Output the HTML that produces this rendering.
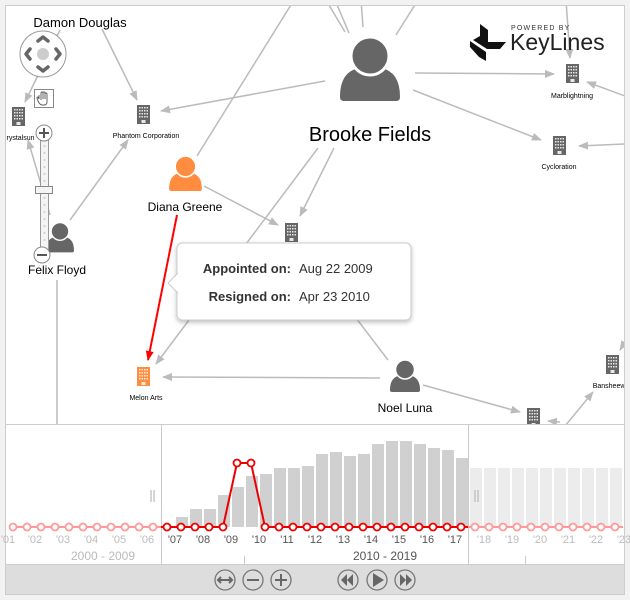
<!DOCTYPE html>
<html><head><meta charset="utf-8"><style>
html,body{margin:0;padding:0;background:#f2f2f2;}
svg{display:block;font-family:"Liberation Sans",sans-serif;}
</style></head><body>
<svg width="630" height="600" viewBox="0 0 630 600" xmlns="http://www.w3.org/2000/svg">
<defs>
<marker id="ah" viewBox="0 0 10 10" refX="9" refY="5" markerWidth="10" markerHeight="10" markerUnits="userSpaceOnUse" orient="auto"><path d="M0,1 L10,5 L0,9 Z" fill="#bbb"/></marker>
<marker id="ahr" viewBox="0 0 10 10" refX="9" refY="5" markerWidth="10" markerHeight="10" markerUnits="userSpaceOnUse" orient="auto"><path d="M0,1 L10,5 L0,9 Z" fill="#f00"/></marker>
<symbol id="person" viewBox="0 0 60 66" overflow="visible">
<path d="M0,62 Q0,36 20,33 L40,33 Q60,36 60,62 Q60,66 56,66 L4,66 Q0,66 0,62 Z"/>
<circle cx="30" cy="21" r="19" stroke="#fff" stroke-width="3"/>
</symbol>
<g id="bld">
<rect x="0" y="0" width="13" height="19"/>
<g fill="#fff" opacity="0.85">
<rect x="2" y="2" width="1.5" height="1.5"/><rect x="4.5" y="2" width="1.5" height="1.5"/><rect x="7" y="2" width="1.5" height="1.5"/><rect x="9.5" y="2" width="1.5" height="1.5"/>
<rect x="2" y="5" width="1.5" height="1.5"/><rect x="4.5" y="5" width="1.5" height="1.5"/><rect x="7" y="5" width="1.5" height="1.5"/><rect x="9.5" y="5" width="1.5" height="1.5"/>
<rect x="2" y="8" width="1.5" height="1.5"/><rect x="4.5" y="8" width="1.5" height="1.5"/><rect x="7" y="8" width="1.5" height="1.5"/><rect x="9.5" y="8" width="1.5" height="1.5"/>
<rect x="2" y="11" width="1.5" height="1.5"/><rect x="4.5" y="11" width="1.5" height="1.5"/><rect x="7" y="11" width="1.5" height="1.5"/><rect x="9.5" y="11" width="1.5" height="1.5"/>
<rect x="4.5" y="15" width="4" height="3"/>
</g>
</g>
<filter id="sh" x="-10%" y="-10%" width="120%" height="130%"><feDropShadow dx="0" dy="2" stdDeviation="2.5" flood-color="#000" flood-opacity="0.25"/></filter>
<clipPath id="cl"><rect x="6" y="6" width="618" height="418"/></clipPath>
</defs>
<rect x="5.5" y="5.5" width="619" height="589" fill="#fff" stroke="#ccc"/>
<g clip-path="url(#cl)">
<g stroke="#bbb" stroke-width="1.5" fill="none">
<line x1="415" y1="73" x2="554" y2="74" marker-end="url(#ah)"/>
<line x1="413" y1="90" x2="541" y2="140" marker-end="url(#ah)"/>
<line x1="325" y1="81" x2="161" y2="111" marker-end="url(#ah)"/>
<line x1="334" y1="148" x2="300" y2="216" marker-end="url(#ah)"/>
<line x1="318" y1="148" x2="156" y2="364" marker-end="url(#ah)"/>
<line x1="204" y1="186" x2="278" y2="225" marker-end="url(#ah)"/>
<line x1="197" y1="156" x2="294" y2="0"/>
<line x1="326" y1="0" x2="345" y2="32"/>
<line x1="335" y1="0" x2="349" y2="33"/>
<line x1="361" y1="0" x2="363" y2="27"/>
<line x1="418" y1="0" x2="396" y2="35"/>
<line x1="102" y1="29" x2="137" y2="100" marker-end="url(#ah)"/>
<line x1="60" y1="30" x2="25" y2="102" marker-end="url(#ah)"/>
<line x1="70" y1="220" x2="128" y2="140" marker-end="url(#ah)"/>
<line x1="50" y1="215" x2="28" y2="140" marker-end="url(#ah)"/>
<line x1="57" y1="280" x2="57" y2="424"/>
<line x1="380" y1="378" x2="163" y2="377" marker-end="url(#ah)"/>
<line x1="423" y1="385" x2="520" y2="412" marker-end="url(#ah)"/>
<line x1="356" y1="318" x2="388" y2="360"/>
<line x1="565" y1="426" x2="593" y2="392" marker-end="url(#ah)"/>
<line x1="625" y1="342" x2="620" y2="350" marker-end="url(#ah)"/>
<line x1="625" y1="96" x2="587" y2="82" marker-end="url(#ah)"/>
<line x1="625" y1="144" x2="579" y2="146" marker-end="url(#ah)"/>
<line x1="566" y1="0" x2="570" y2="58" marker-end="url(#ah)"/>
<line x1="560" y1="422" x2="548" y2="421" marker-end="url(#ah)"/>
</g>
<line x1="177" y1="215" x2="148" y2="360" stroke="#f00" stroke-width="2" marker-end="url(#ahr)"/>
<use href="#person" x="340" y="35" width="60" height="66" fill="#666"/>
<use href="#person" x="169" y="155" width="33" height="36" fill="#ff8c3f"/>
<use href="#person" x="46" y="220" width="28" height="34" fill="#666"/>
<use href="#person" x="390" y="359" width="30" height="33" fill="#666"/>
<use href="#bld" x="137" y="105" fill="#666"/>
<use href="#bld" x="12" y="107" fill="#666"/>
<use href="#bld" x="566" y="64" fill="#666"/>
<use href="#bld" x="553" y="136" fill="#666"/>
<use href="#bld" x="285" y="223" fill="#666"/>
<use href="#bld" x="137" y="367" fill="#ff8c3f"/>
<use href="#bld" x="606" y="355" fill="#666"/>
<use href="#bld" x="527" y="408" fill="#666"/>
<g fill="#000" text-anchor="middle">
<text x="80" y="27" font-size="13">Damon Douglas</text>
<text x="370" y="141" font-size="20">Brooke Fields</text>
<text x="185" y="211" font-size="12">Diana Greene</text>
<text x="57" y="274" font-size="12">Felix Floyd</text>
<text x="405" y="412" font-size="12">Noel Luna</text>
<text x="146" y="138" font-size="7">Phantom Corporation</text>
<text x="18" y="140" font-size="7">Crystalsun</text>
<text x="572" y="98" font-size="7">Marblightning</text>
<text x="559" y="169" font-size="7">Cycloration</text>
<text x="146" y="400" font-size="7">Melon Arts</text>
<text x="611" y="388" font-size="7">Bansheewa</text>
</g>
<g fill="#111">
<polygon points="480,24 488,30 488,42 506,42 500,49 487,49 473,40 480,36"/>
<polygon points="470,41 486,52 486,61 479,57 470,47"/>
</g>
<text x="511" y="30" font-size="7" fill="#333" letter-spacing="1.2">POWERED BY</text>
<text x="510" y="50" font-size="23" fill="#222">KeyLines</text>
<circle cx="43" cy="54" r="23" fill="#fff" stroke="#999" stroke-width="1"/>
<circle cx="43" cy="54" r="6" fill="#ccc"/>
<g stroke="#666" stroke-width="3.5" fill="none" stroke-linecap="round" stroke-linejoin="round">
<polyline points="38,41 43,37 48,41"/>
<polyline points="38,67 43,71 48,67"/>
<polyline points="30,49 26,54 30,59"/>
<polyline points="56,49 60,54 56,59"/>
</g>
<rect x="34.5" y="89.5" width="19" height="18" fill="#fff" stroke="#888"/>
<path d="M39,99 L39,95 M41,100 L41,93 Q41,92 42,92 Q43,92 43,93 L43,99 M43,93 Q43,92 44,92 Q45,92 45,93 L45,99 M45,94 Q45,93 46,93 Q47,93 47,94 L47,102 Q47,105 44,105 L42,105 Q40,105 38,101 L37,98 Q37,97 38,97 L39,99" fill="none" stroke="#555" stroke-width="0.9"/>
<rect x="40.5" y="135" width="8" height="115" fill="#f4f4f4" stroke="#999"/>
<g fill="#ccc"><circle cx="44.5" cy="146" r="1"/><circle cx="44.5" cy="153" r="1"/><circle cx="44.5" cy="160" r="1"/><circle cx="44.5" cy="167" r="1"/><circle cx="44.5" cy="174" r="1"/><circle cx="44.5" cy="181" r="1"/><circle cx="44.5" cy="198" r="1"/><circle cx="44.5" cy="205" r="1"/><circle cx="44.5" cy="212" r="1"/><circle cx="44.5" cy="219" r="1"/><circle cx="44.5" cy="226" r="1"/><circle cx="44.5" cy="233" r="1"/><circle cx="44.5" cy="240" r="1"/></g>
<rect x="35.5" y="186.5" width="17" height="7" fill="#f4f4f4" stroke="#888"/>
<circle cx="44" cy="133" r="8" fill="#fff" stroke="#888"/>
<path d="M39,133 H49 M44,128 V138" stroke="#555" stroke-width="2"/>
<circle cx="42" cy="255" r="8" fill="#fff" stroke="#888"/>
<path d="M37,255 H47" stroke="#555" stroke-width="2"/>
<g filter="url(#sh)">
<rect x="177" y="243" width="234" height="77" rx="5" fill="#fff" stroke="#ccc"/>
</g>
<path d="M178,273 L168,283 L178,293" fill="#fff" stroke="#ccc"/>
<rect x="178" y="272" width="3" height="22" fill="#fff"/>
<text x="291" y="273" font-size="13" font-weight="bold" fill="#333" text-anchor="end">Appointed on:</text>
<text x="291" y="301" font-size="13" font-weight="bold" fill="#333" text-anchor="end">Resigned on:</text>
<text x="299" y="273" font-size="13" fill="#333">Aug 22 2009</text>
<text x="299" y="301" font-size="13" fill="#333">Apr 23 2010</text>
</g>
<line x1="5" y1="424.5" x2="625" y2="424.5" stroke="#ccc"/>
<line x1="161.5" y1="425" x2="161.5" y2="564" stroke="#ccc"/>
<line x1="468.5" y1="425" x2="468.5" y2="564" stroke="#ccc"/>
<g fill="#d0d0d0">
<rect x="176" y="517" width="12" height="10"/>
<rect x="190" y="509" width="12" height="18"/>
<rect x="204" y="509" width="12" height="18"/>
<rect x="218" y="495" width="12" height="32"/>
<rect x="232" y="487" width="12" height="40"/>
<rect x="246" y="476" width="12" height="51"/>
<rect x="260" y="474" width="12" height="53"/>
<rect x="274" y="468" width="12" height="59"/>
<rect x="288" y="468" width="12" height="59"/>
<rect x="302" y="466" width="12" height="61"/>
<rect x="316" y="454" width="12" height="73"/>
<rect x="330" y="452" width="12" height="75"/>
<rect x="344" y="456" width="12" height="71"/>
<rect x="358" y="454" width="12" height="73"/>
<rect x="372" y="444" width="12" height="83"/>
<rect x="386" y="441" width="12" height="86"/>
<rect x="400" y="441" width="12" height="86"/>
<rect x="414" y="444" width="12" height="83"/>
<rect x="428" y="448" width="12" height="79"/>
<rect x="442" y="450" width="12" height="77"/>
<rect x="456" y="458" width="12" height="69"/>
</g>
<g fill="#ececec">
<rect x="470" y="468" width="12" height="59"/><rect x="484" y="468" width="12" height="59"/><rect x="498" y="468" width="12" height="59"/><rect x="512" y="468" width="12" height="59"/><rect x="526" y="468" width="12" height="59"/><rect x="540" y="468" width="12" height="59"/><rect x="554" y="468" width="12" height="59"/><rect x="568" y="468" width="12" height="59"/><rect x="582" y="468" width="12" height="59"/><rect x="596" y="468" width="12" height="59"/><rect x="610" y="468" width="12" height="59"/>
</g>
<g stroke="#bbb" stroke-width="1.2"><line x1="151" y1="490" x2="151" y2="502"/><line x1="154" y1="490" x2="154" y2="502"/><line x1="475" y1="490" x2="475" y2="502"/><line x1="478" y1="490" x2="478" y2="502"/></g>
<polyline points="13,527 161,527" stroke="#f99" stroke-width="2" fill="none"/>
<polyline points="468,527 623,527" stroke="#f99" stroke-width="2" fill="none"/>
<polyline points="161,527 223,527 237,463 251,463 265,527 468,527" stroke="#e00" stroke-width="2" fill="none"/>
<g fill="#fff" stroke="#f99" stroke-width="1.8">
<circle cx="13" cy="527" r="3.5"/><circle cx="27" cy="527" r="3.5"/><circle cx="41" cy="527" r="3.5"/><circle cx="55" cy="527" r="3.5"/><circle cx="69" cy="527" r="3.5"/><circle cx="83" cy="527" r="3.5"/><circle cx="97" cy="527" r="3.5"/><circle cx="111" cy="527" r="3.5"/><circle cx="125" cy="527" r="3.5"/><circle cx="139" cy="527" r="3.5"/><circle cx="153" cy="527" r="3.5"/>
<circle cx="475" cy="527" r="3.5"/><circle cx="489" cy="527" r="3.5"/><circle cx="503" cy="527" r="3.5"/><circle cx="517" cy="527" r="3.5"/><circle cx="531" cy="527" r="3.5"/><circle cx="545" cy="527" r="3.5"/><circle cx="559" cy="527" r="3.5"/><circle cx="573" cy="527" r="3.5"/><circle cx="587" cy="527" r="3.5"/><circle cx="601" cy="527" r="3.5"/><circle cx="615" cy="527" r="3.5"/>
</g>
<g fill="#fff" stroke="#e00" stroke-width="1.8">
<circle cx="167" cy="527" r="3.5"/><circle cx="181" cy="527" r="3.5"/><circle cx="195" cy="527" r="3.5"/><circle cx="209" cy="527" r="3.5"/><circle cx="223" cy="527" r="3.5"/><circle cx="237" cy="463" r="3.5"/><circle cx="251" cy="463" r="3.5"/><circle cx="265" cy="527" r="3.5"/><circle cx="279" cy="527" r="3.5"/><circle cx="293" cy="527" r="3.5"/><circle cx="307" cy="527" r="3.5"/><circle cx="321" cy="527" r="3.5"/><circle cx="335" cy="527" r="3.5"/><circle cx="349" cy="527" r="3.5"/><circle cx="363" cy="527" r="3.5"/><circle cx="377" cy="527" r="3.5"/><circle cx="391" cy="527" r="3.5"/><circle cx="405" cy="527" r="3.5"/><circle cx="419" cy="527" r="3.5"/><circle cx="433" cy="527" r="3.5"/><circle cx="447" cy="527" r="3.5"/><circle cx="461" cy="527" r="3.5"/>
</g>
<g font-size="11" text-anchor="middle">
<g fill="#bbb"><text x="8" y="543">'01</text><text x="35" y="543">'02</text><text x="63" y="543">'03</text><text x="91" y="543">'04</text><text x="119" y="543">'05</text><text x="147" y="543">'06</text>
<text x="484" y="543">'18</text><text x="512" y="543">'19</text><text x="540" y="543">'20</text><text x="568" y="543">'21</text><text x="596" y="543">'22</text><text x="624" y="543">'23</text>
<text x="103" y="560" font-size="12">2000 - 2009</text></g>
<g fill="#555"><text x="175" y="543">'07</text><text x="203" y="543">'08</text><text x="231" y="543">'09</text><text x="259" y="543">'10</text><text x="287" y="543">'11</text><text x="315" y="543">'12</text><text x="343" y="543">'13</text><text x="371" y="543">'14</text><text x="399" y="543">'15</text><text x="427" y="543">'16</text><text x="455" y="543">'17</text>
<text x="385" y="560" font-size="12">2010 - 2019</text></g>
</g>
<line x1="244.5" y1="556" x2="244.5" y2="564" stroke="#ccc"/>
<line x1="525.5" y1="556" x2="525.5" y2="564" stroke="#ccc"/>
<rect x="5.5" y="564.5" width="619" height="30" fill="#ddd" stroke="#ccc"/>
<g fill="none" stroke="#777" stroke-width="1.3">
<circle cx="225" cy="580" r="10"/><circle cx="253" cy="580" r="10"/><circle cx="281" cy="580" r="10"/>
<circle cx="348" cy="580" r="10"/><circle cx="377" cy="580" r="10"/><circle cx="405" cy="580" r="10"/>
</g>
<g stroke="#666" stroke-width="2" fill="none">
<path d="M218,580 H232 M221,577 L218,580 L221,583 M229,577 L232,580 L229,583"/>
<path d="M247,580 H259"/>
<path d="M275,580 H287 M281,574 V586"/>
</g>
<g fill="#666">
<path d="M347,574 L341,580 L347,586 Z M353,574 L347,580 L353,586 Z"/>
<path d="M373,573 L384,580 L373,587 Z"/>
<path d="M400,574 L406,580 L400,586 Z M406,574 L412,580 L406,586 Z"/>
</g>
</svg>
</body></html>
